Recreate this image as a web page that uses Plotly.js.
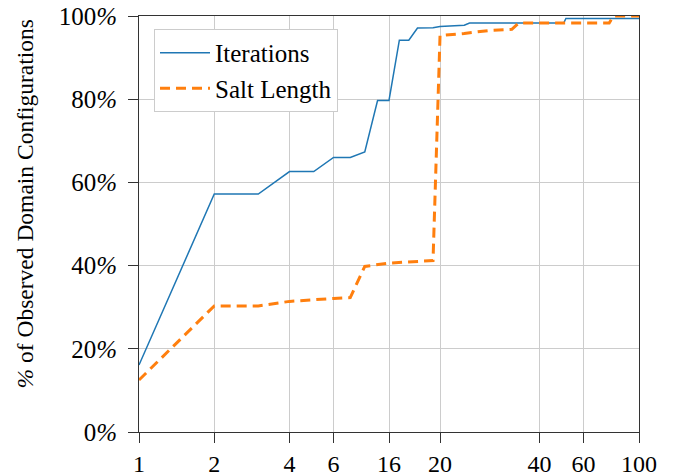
<!DOCTYPE html>
<html>
<head>
<meta charset="utf-8">
<script src="https://cdn.plot.ly/plotly-3.0.1.min.js"></script>
<style>html,body{margin:0;padding:0;background:#fff;}#chart{width:678px;height:475px;}</style>
</head>
<body>
<div id="chart"></div>
<script>
const iterX = [1, 2, 3, 4, 5, 6, 7, 8, 9, 10, 11, 12, 13, 15, 16, 20, 21, 50, 51, 100];
const iterY = [16.1, 57.2, 57.2, 62.6, 62.6, 66.0, 66.0, 67.3, 79.7, 79.7, 94.2, 94.2, 97.1, 97.2, 97.5, 97.8, 98.3, 98.3, 99.4, 99.4];
const saltX = [1, 2, 3, 4, 6, 7, 8, 10, 15, 16, 20, 25, 31, 33, 76, 79, 100];
const saltY = [12.5, 30.3, 30.3, 31.4, 32.1, 32.3, 39.8, 40.6, 41.2, 95.3, 95.8, 96.5, 96.8, 98.3, 98.3, 100, 100];
const xTickVals = [1, 2, 4, 6, 10, 16, 40, 60, 100];
const xTickText = ["1", "2", "4", "6", "16", "20", "40", "60", "100"];
const yTickVals = [0, 20, 40, 60, 80, 100];
const yTickText = yTickVals.map(v => v + "<i>%</i>");
const yTitle = "<i>%</i> of Observed Domain Configurations";
const seriesNames = ["Iterations", "Salt Length"];

const SERIF = "Liberation Serif";
function mkFont(size) { return {family: SERIF, size: size, color: "#000000"}; }

const traces = [
  {x: iterX, y: iterY, name: seriesNames[0], mode: "lines", line: {color: "#1f77b4", width: 1.5}},
  {x: saltX, y: saltY, name: seriesNames[1], mode: "lines", line: {color: "#ff7f0e", width: 3, dash: "10px,6px"}}
];

const layout = {
  width: 678, height: 475,
  margin: {l: 139, r: 39, t: 16, b: 43},
  paper_bgcolor: "#fff", plot_bgcolor: "#fff",
  font: mkFont(24),
  showlegend: true,
  legend: {x: 0.03, y: 0.969, xanchor: "left", yanchor: "top", bgcolor: "#ffffff",
           bordercolor: "#cccccc", borderwidth: 1, font: mkFont(25), tracegroupgap: 0, itemwidth: 50,
           entrywidth: 200, entrywidthmode: "pixels"},
  xaxis: {type: "log", range: [0, 2], tickvals: xTickVals, ticktext: xTickText, tickmode: "array",
          showgrid: true, gridcolor: "#cccccc", gridwidth: 1, showline: true, linecolor: "#333", linewidth: 1,
          mirror: true, ticks: "outside", ticklen: 10, tickcolor: "#333", zeroline: false, tickfont: mkFont(24)},
  yaxis: {range: [0, 100], tickvals: yTickVals, ticktext: yTickText, tickmode: "array",
          showgrid: true, gridcolor: "#cccccc", gridwidth: 1, showline: true, linecolor: "#333", linewidth: 1,
          mirror: true, ticks: "outside", ticklen: 10, tickcolor: "#333", zeroline: false, tickfont: mkFont(25),
          ticklabelstandoff: 6},
  annotations: [{text: yTitle, xref: "paper", yref: "paper", x: -0.228, y: 0.547, xanchor: "center", yanchor: "middle",
                 textangle: -90, showarrow: false, font: mkFont(23.5)}]
};

Plotly.newPlot("chart", traces, layout, {displayModeBar: false, staticPlot: true});
</script>
</body>
</html>
